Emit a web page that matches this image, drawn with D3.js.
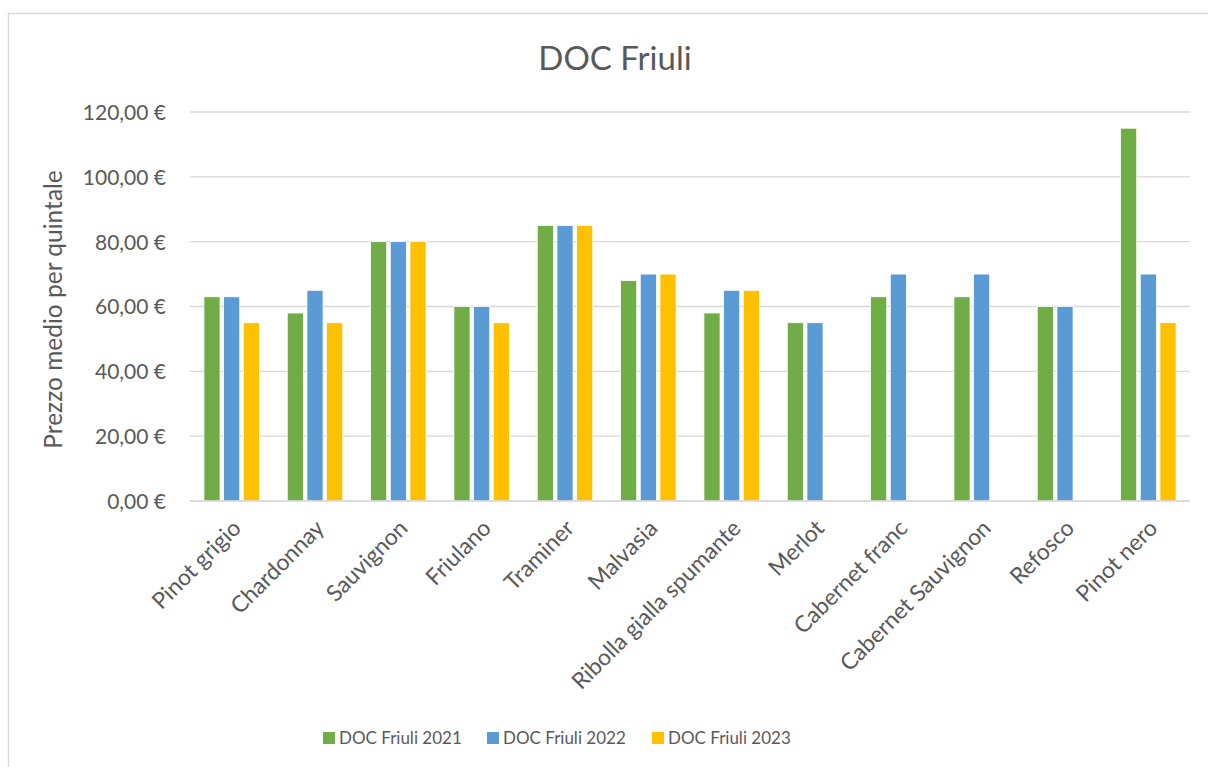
<!DOCTYPE html>
<html>
<head>
<meta charset="utf-8" />
<title>DOC Friuli</title>
<script src="https://d3js.org/d3.v7.min.js"></script>
<style>
  body { margin: 0; background: #fff; }
  svg text { font-family: Lato, "Open Sans", sans-serif; fill: #595959; }
</style>
</head>
<body>
<div id="chart"></div>
<script>
// data
var categories = ["Pinot grigio", "Chardonnay", "Sauvignon", "Friulano", "Traminer", "Malvasia",
  "Ribolla gialla spumante", "Merlot", "Cabernet franc", "Cabernet Sauvignon", "Refosco", "Pinot nero"];
var seriesNames = ["DOC Friuli 2021", "DOC Friuli 2022", "DOC Friuli 2023"];
var values2021 = [63, 58, 80, 60, 85, 68, 58, 55, 63, 63, 60, 115];
var values2022 = [63, 65, 80, 60, 85, 70, 65, 55, 70, 70, 60, 70];
var values2023 = [55, 55, 80, 55, 85, 70, 65, null, null, null, null, 55];
var yTicks = [0, 20, 40, 60, 80, 100, 120];
var colors = ["#70AD47", "#5B9BD5", "#FFC000"];

var seriesValues = [values2021, values2022, values2023];

var width = 1208, height = 767;
var margin = { top: 112, right: 18, bottom: 266, left: 190 };
var innerW = width - margin.left - margin.right,
    innerH = height - margin.top - margin.bottom;

var svg = d3.select("#chart").append("svg")
    .attr("width", width)
    .attr("height", height);

// chart frame
svg.append("rect")
    .attr("x", 8.5).attr("y", 13.5)
    .attr("width", width + 10).attr("height", height + 10)
    .attr("fill", "none")
    .attr("stroke", "#d9d9d9")
    .attr("stroke-width", 1.5);

svg.append("text")
    .attr("x", 615)
    .attr("y", 70)
    .attr("text-anchor", "middle")
    .style("font-size", "33px")
    .text("DOC Friuli");

var g = svg.append("g")
    .attr("transform", "translate(" + margin.left + "," + margin.top + ")");

var x0 = d3.scaleBand().domain(categories).range([0, innerW])
    .paddingInner(0.334).paddingOuter(0.167);
var x1 = d3.scaleBand().domain(seriesNames).range([0, x0.bandwidth()]).paddingInner(0.18);
var y = d3.scaleLinear().domain([0, 120]).range([innerH, 0]);

// gridlines
g.selectAll(".grid")
    .data(yTicks)
    .enter().append("line")
    .attr("class", "grid")
    .attr("x1", 0).attr("x2", innerW)
    .attr("y1", function(d) { return y(d); })
    .attr("y2", function(d) { return y(d); })
    .attr("stroke", "#d9d9d9")
    .attr("stroke-width", 1.3);

var yAxis = d3.axisLeft(y)
    .tickValues(yTicks)
    .tickSize(0)
    .tickPadding(24)
    .tickFormat(function(d) { return d3.format(".2f")(d).replace(".", ",") + " \u20ac"; });

var ya = g.append("g").call(yAxis);
ya.select(".domain").remove();
ya.selectAll("text")
    .style("font-size", "21px")
    .attr("fill", "#595959")
    .attr("dy", "0.35em");

// bars
seriesNames.forEach(function(name, si) {
  var rows = categories.map(function(c, i) { return { cat: c, v: seriesValues[si][i] }; })
      .filter(function(d) { return d.v != null; });
  g.selectAll(".bar" + si)
      .data(rows)
      .enter().append("rect")
      .attr("class", "bar" + si)
      .attr("x", function(d) { return x0(d.cat) + x1(name); })
      .attr("y", function(d) { return y(d.v); })
      .attr("width", x1.bandwidth())
      .attr("height", function(d) { return innerH - y(d.v); })
      .attr("fill", colors[si])
      .attr("stroke", "#ffffff")
      .attr("stroke-width", 0.8);
});

// baseline
g.append("line")
    .attr("x1", 0).attr("x2", innerW)
    .attr("y1", innerH).attr("y2", innerH)
    .attr("stroke", "#d9d9d9")
    .attr("stroke-width", 1.5);

// category labels, rotated
g.selectAll(".cat")
    .data(categories)
    .enter().append("text")
    .attr("class", "cat")
    .attr("text-anchor", "end")
    .style("font-size", "22.8px")
    .attr("transform", function(d) {
      var cx = x0(d) + x0.bandwidth() / 2 + 5;
      return "translate(" + cx + "," + (innerH + 23) + ") rotate(-45)";
    })
    .attr("dy", "0.35em")
    .text(function(d) { return d; });

// y axis title
svg.append("text")
    .attr("transform", "translate(62," + (margin.top + innerH / 2 + 3) + ") rotate(-90)")
    .attr("text-anchor", "middle")
    .style("font-size", "24.5px")
    .text("Prezzo medio per quintale");

// legend
var legendX = [323, 487, 652];
var legend = svg.selectAll(".leg")
    .data(seriesNames)
    .enter().append("g")
    .attr("class", "leg")
    .attr("transform", function(d, i) { return "translate(" + legendX[i] + ",738)"; });
legend.append("rect")
    .attr("x", 0).attr("y", -6)
    .attr("width", 12).attr("height", 12)
    .attr("fill", function(d, i) { return colors[i]; });
legend.append("text")
    .attr("x", 16)
    .attr("dy", "0.35em")
    .style("font-size", "17px")
    .text(function(d) { return d; });
</script>
</body>
</html>
